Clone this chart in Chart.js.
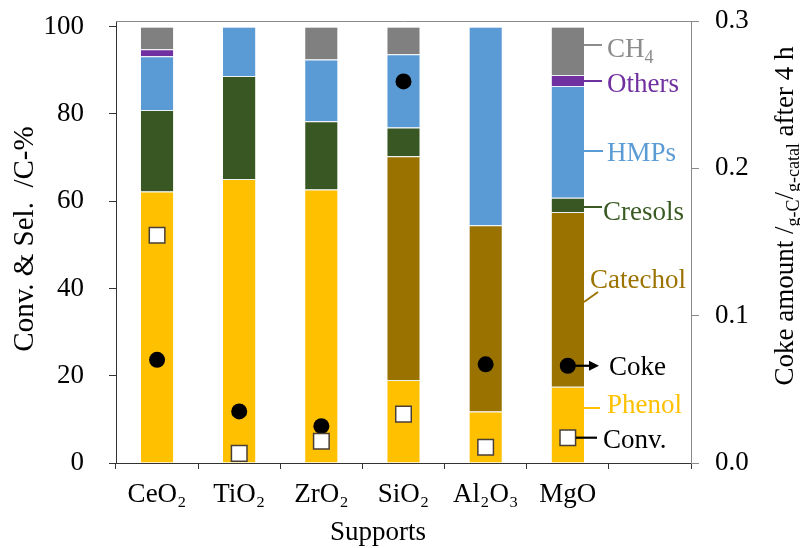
<!DOCTYPE html>
<html>
<head>
<meta charset="utf-8">
<script src="https://cdn.jsdelivr.net/npm/chart.js@4.4.1/dist/chart.umd.min.js"></script>
<style>
  html, body { margin: 0; padding: 0; background: #fff; }
  #wrap { width: 800px; height: 548px; }
</style>
</head>
<body>
<div id="wrap"><canvas id="c" width="800" height="548"></canvas></div>
<script>
// Supports (last slot left empty on purpose)
const categories = ['CeO₂', 'TiO₂', 'ZrO₂', 'SiO₂', 'Al₂O₃', 'MgO', ''];

// Product selectivities, C-%
const phenol   = [62.2, 65.1, 62.7, 19.0, 11.8, 17.5, null];
const catechol = [null, null, null, 51.3, 42.7, 40.0, null];
const cresols  = [18.7, 23.6, 15.6,  6.6, null,  3.3, null];
const hmps     = [12.3, 11.3, 14.2, 16.8, 45.5, 25.6, null];
const others   = [ 1.6, null, null, null, null,  2.5, null];
const ch4      = [ 5.2, null,  7.5,  6.3, null, 11.1, null];

// Guaiacol conversion, C-%
const conversion = [52.2, 2.2, 5.0, 11.2, 3.6, 5.8, null];
// Coke amount after 4 h, g-C / g-catal
const coke = [0.070, 0.035, 0.025, 0.259, 0.067, 0.066, null];

const leftTicks  = [0, 20, 40, 60, 80, 100];
const rightTicks = [0, 0.1, 0.2, 0.3];

const FONT = "'Liberation Serif', 'Times New Roman', serif";
const FS = 27;

const segStyle = (label, data, color) => ({
  type: 'bar', label, data, backgroundColor: color,
  borderColor: 'rgba(235,240,245,0.95)',
  borderWidth: { top: 1, left: 0, right: 0, bottom: 0 },
  borderSkipped: 'start',
  yAxisID: 'y', stack: 'sel', order: 2,
  categoryPercentage: 1.0, barPercentage: 0.395
});

// Side labels naming each series, tied to the MgO column
const notes = [
  { text: 'CH', sub: '4', color: '#8c8c8c', lineY: 45,  lineEnd: 602, textX: 607, base: 57 },
  { text: 'Others',   color: '#7030A0', lineY: 81,  lineEnd: 602, textX: 607, base: 92 },
  { text: 'HMPs',     color: '#5B9BD5', lineY: 151, lineEnd: 603, textX: 607, base: 161 },
  { text: 'Cresols',  color: '#3A5A24', lineY: 207, lineEnd: 602, textX: 603, base: 220 },
  { text: 'Catechol', color: '#9C7300', lineY: 302, lineEnd: 598, lineEndY: 292, textX: 590, base: 288 },
  { text: 'Phenol',   color: '#FFC000', lineY: 408, lineEnd: 600, textX: 607, base: 413 }
];

const noPad = s => { s.paddingTop = 0; s.paddingBottom = 0; s.paddingLeft = 0; s.paddingRight = 0; };

const decorations = {
  id: 'decorations',
  afterDraw(chart) {
    const ctx = chart.ctx;
    const a = chart.chartArea;
    ctx.save();

    // top frame
    ctx.strokeStyle = '#8a8a8a';
    ctx.lineWidth = 1;
    ctx.beginPath();
    ctx.moveTo(a.left, a.top + 0.5);
    ctx.lineTo(a.right, a.top + 0.5);
    ctx.stroke();

    // right edge of the MgO column
    const mg = 5;
    const barEl = chart.getDatasetMeta(0).data[mg];
    const barRight = barEl.x + barEl.width / 2;

    ctx.textBaseline = 'alphabetic';
    ctx.textAlign = 'left';
    notes.forEach(n => {
      ctx.strokeStyle = n.color;
      ctx.lineWidth = 2;
      ctx.beginPath();
      ctx.moveTo(barRight, n.lineY);
      ctx.lineTo(n.lineEnd, n.lineEndY !== undefined ? n.lineEndY : n.lineY);
      ctx.stroke();
      ctx.fillStyle = n.color;
      ctx.font = FS + 'px ' + FONT;
      ctx.fillText(n.text, n.textX, n.base);
      if (n.sub) {
        const w = ctx.measureText(n.text).width;
        ctx.font = '18px ' + FONT;
        ctx.fillText(n.sub, n.textX + w, n.base + 6);
      }
    });

    // Coke marker pointer
    const cokePt = chart.getDatasetMeta(7).data[mg];
    ctx.strokeStyle = '#000';
    ctx.fillStyle = '#000';
    ctx.lineWidth = 2.2;
    ctx.beginPath();
    ctx.moveTo(cokePt.x, cokePt.y);
    ctx.lineTo(591, cokePt.y);
    ctx.stroke();
    ctx.beginPath();
    ctx.moveTo(599, cokePt.y);
    ctx.lineTo(589, cokePt.y - 5);
    ctx.lineTo(589, cokePt.y + 5);
    ctx.closePath();
    ctx.fill();
    ctx.font = FS + 'px ' + FONT;
    ctx.fillText('Coke', 609, cokePt.y + 9);

    // Conversion marker pointer
    const convPt = chart.getDatasetMeta(6).data[mg];
    ctx.lineWidth = 2.2;
    ctx.beginPath();
    ctx.moveTo(convPt.x + 8, convPt.y);
    ctx.lineTo(597, convPt.y);
    ctx.stroke();
    ctx.fillText('Conv.', 603, convPt.y + 10);

    // left axis title
    ctx.save();
    ctx.translate(25, 239);
    ctx.rotate(-Math.PI / 2);
    ctx.textAlign = 'center';
    ctx.textBaseline = 'middle';
    ctx.font = '29px ' + FONT;
    ctx.fillText('Conv. & Sel.  /C-%', 0, 0);
    ctx.restore();

    // right axis title with subscripted units
    ctx.save();
    ctx.translate(784, 216);
    ctx.rotate(-Math.PI / 2);
    ctx.textBaseline = 'alphabetic';
    ctx.textAlign = 'left';
    const parts = [
      { t: 'Coke amount /', s: FS, dy: 0 },
      { t: 'g-C', s: 18, dy: 6 },
      { t: '/', s: FS, dy: 0 },
      { t: 'g-catal', s: 18, dy: 6 },
      { t: ' after 4 h', s: FS, dy: 0 }
    ];
    let total = 0;
    parts.forEach(p => { ctx.font = p.s + 'px ' + FONT; p.w = ctx.measureText(p.t).width; total += p.w; });
    let x = -total / 2;
    parts.forEach(p => {
      ctx.font = p.s + 'px ' + FONT;
      ctx.fillText(p.t, x, 9 + p.dy);
      x += p.w;
    });
    ctx.restore();

    // x axis title
    ctx.textAlign = 'center';
    ctx.textBaseline = 'alphabetic';
    ctx.font = FS + 'px ' + FONT;
    ctx.fillText('Supports', 378, 540);

    ctx.restore();
  }
};

new Chart(document.getElementById('c'), {
  type: 'bar',
  data: {
    labels: categories,
    datasets: [
      segStyle('Phenol', phenol, '#FFC000'),
      segStyle('Catechol', catechol, '#9A7200'),
      segStyle('Cresols', cresols, '#385723'),
      segStyle('HMPs', hmps, '#5B9BD5'),
      segStyle('Others', others, '#7030A0'),
      segStyle('CH4', ch4, '#808080'),
      {
        type: 'line', label: 'Conv.', data: conversion, yAxisID: 'y', stack: 'conv',
        showLine: false, pointStyle: 'rect', pointRadius: 11, pointHoverRadius: 11,
        pointBackgroundColor: '#ffffff', pointBorderColor: '#4a3f35', pointBorderWidth: 1.5,
        order: 0
      },
      {
        type: 'line', label: 'Coke', data: coke, yAxisID: 'y1', stack: 'coke',
        showLine: false, pointStyle: 'circle', pointRadius: 8, pointHoverRadius: 8,
        pointBackgroundColor: '#000000', pointBorderColor: '#000000', pointBorderWidth: 0,
        order: 1
      }
    ]
  },
  options: {
    responsive: false,
    animation: false,
    events: [],
    layout: { padding: { top: 21, left: 0, right: 0, bottom: 0 } },
    plugins: { legend: { display: false }, tooltip: { enabled: false } },
    scales: {
      x: {
        stacked: true,
        offset: true,
        grid: { offset: true, drawOnChartArea: false, tickLength: 6, color: '#333', lineWidth: 1 },
        border: { color: '#333', width: 1 },
        ticks: { color: '#000', font: { family: FONT, size: FS }, padding: 10, maxRotation: 0, autoSkip: false },
        afterFit: s => { s.height = 85; noPad(s); }
      },
      y: {
        stacked: true,
        position: 'left',
        min: 0, max: 101.3,
        afterBuildTicks: s => { s.ticks = leftTicks.map(v => ({ value: v })); },
        grid: { drawOnChartArea: false, tickLength: 7, color: '#333' },
        border: { color: '#333', width: 1 },
        ticks: { color: '#000', font: { family: FONT, size: FS }, padding: 25 },
        afterFit: s => { s.width = 116; noPad(s); }
      },
      y1: {
        position: 'right',
        min: 0, max: 0.3,
        afterBuildTicks: s => { s.ticks = rightTicks.map(v => ({ value: v })); },
        grid: { drawOnChartArea: false, tickLength: 8, color: '#8a8a8a' },
        border: { color: '#8a8a8a', width: 1 },
        ticks: { color: '#000', font: { family: FONT, size: FS }, padding: 16, callback: v => v.toFixed(1) },
        afterFit: s => { s.width = 109; noPad(s); }
      }
    }
  },
  plugins: [decorations]
});
</script>
</body>
</html>
